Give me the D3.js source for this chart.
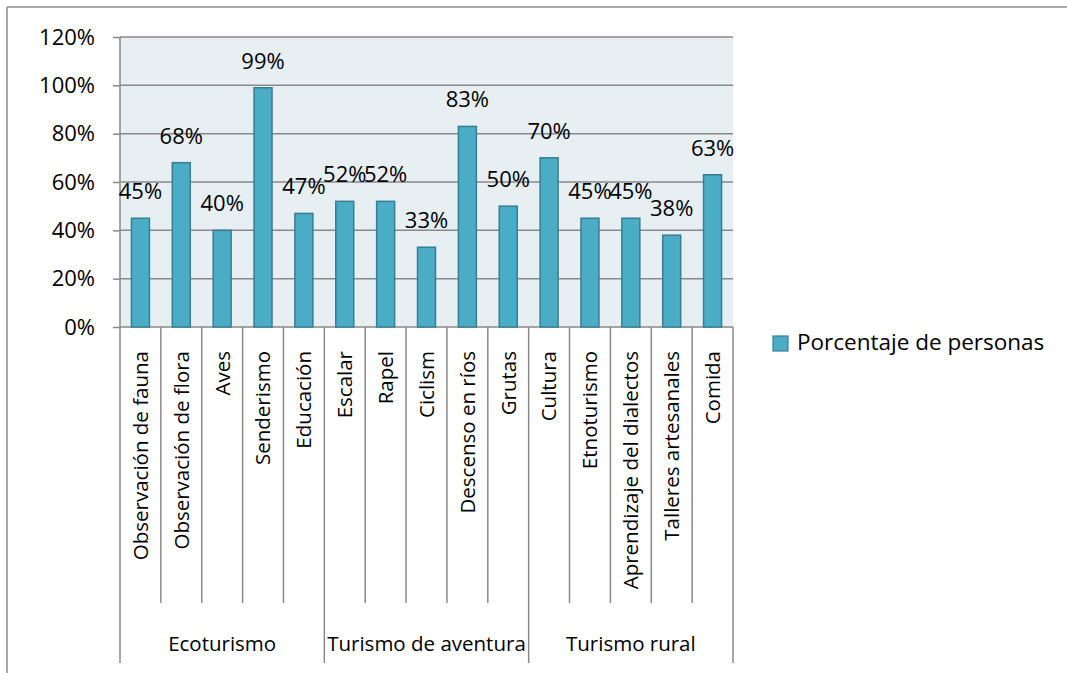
<!DOCTYPE html>
<html>
<head>
<meta charset="utf-8">
<script src="https://cdn.jsdelivr.net/npm/d3@7"></script>
<style>
  html, body { margin: 0; padding: 0; background: #fff; }
  svg { display: block; }
  text { font-family: "Open Sans", sans-serif; fill: #000; }
</style>
</head>
<body>
<svg id="chart" width="1067" height="673"></svg>
<script>
const categories = ["Observación de fauna", "Observación de flora", "Aves", "Senderismo", "Educación",
  "Escalar", "Rapel", "Ciclism", "Descenso en ríos", "Grutas",
  "Cultura", "Etnoturismo", "Aprendizaje del dialectos", "Talleres artesanales", "Comida"];
const values = [0.45, 0.68, 0.40, 0.99, 0.47, 0.52, 0.52, 0.33, 0.83, 0.50, 0.70, 0.45, 0.45, 0.38, 0.63];
const groupNames = ["Ecoturismo", "Turismo de aventura", "Turismo rural"];
const groupSizes = [5, 5, 5];
const yTicks = [0, 0.2, 0.4, 0.6, 0.8, 1.0, 1.2];
const seriesName = "Porcentaje de personas";

const svg = d3.select("#chart");
const plot = { left: 120, right: 733, top: 37, bottom: 327 };
const catBottom = 603, groupBottom = 663;
const gridColor = "#898989";

// outer frame (top and left edges visible)
svg.append("line").attr("x1", 7).attr("x2", 1067).attr("y1", 7).attr("y2", 7)
  .attr("stroke", "#8c8c8c").attr("stroke-width", 1.5);
svg.append("line").attr("x1", 7).attr("x2", 7).attr("y1", 7).attr("y2", 673)
  .attr("stroke", "#8c8c8c").attr("stroke-width", 1.5);

const x = d3.scaleBand().domain(categories).range([plot.left, plot.right]).padding(0);
const y = d3.scaleLinear().domain([0, 1.2]).range([plot.bottom, plot.top]);

// plot background
svg.append("rect").attr("x", plot.left).attr("y", plot.top)
  .attr("width", plot.right - plot.left).attr("height", plot.bottom - plot.top)
  .attr("fill", "#E8EFF3");

// gridlines
svg.append("g").selectAll("line").data(yTicks).join("line")
  .attr("x1", plot.left).attr("x2", plot.right)
  .attr("y1", d => y(d)).attr("y2", d => y(d))
  .attr("stroke", gridColor).attr("stroke-width", 1.5);

// y axis
const yAxis = svg.append("g").attr("transform", `translate(${plot.left},0)`)
  .call(d3.axisLeft(y).tickValues(yTicks).tickFormat(d3.format(".0%")).tickSize(7).tickPadding(18));
yAxis.select(".domain").remove();
yAxis.selectAll(".tick line").attr("stroke", gridColor).attr("stroke-width", 1.5);
yAxis.selectAll(".tick text").attr("font-size", 22).attr("font-family", "Open Sans").attr("fill", "#000");
svg.append("line").attr("x1", plot.left).attr("x2", plot.left)
  .attr("y1", plot.top).attr("y2", groupBottom)
  .attr("stroke", gridColor).attr("stroke-width", 1.5);

// bars
const barW = x.bandwidth() * 0.44;
svg.append("g").selectAll("rect").data(values).join("rect")
  .attr("x", (d, i) => x(categories[i]) + (x.bandwidth() - barW) / 2)
  .attr("y", d => y(d))
  .attr("width", barW)
  .attr("height", d => y(0) - y(d))
  .attr("fill", "#4BACC6")
  .attr("stroke", "#357F93").attr("stroke-width", 1.5);

// data labels
svg.append("g").selectAll("text").data(values).join("text")
  .attr("x", (d, i) => x(categories[i]) + x.bandwidth() / 2)
  .attr("y", d => y(d) - 19)
  .attr("text-anchor", "middle")
  .attr("font-size", 22)
  .text(d => d3.format(".0%")(d));

// category dividers
const groupStarts = [];
let acc = 0;
groupSizes.forEach(s => { groupStarts.push(acc); acc += s; });
const boundaries = d3.range(1, categories.length + 1);
svg.append("g").selectAll("line").data(boundaries).join("line")
  .attr("x1", i => plot.left + i * x.step()).attr("x2", i => plot.left + i * x.step())
  .attr("y1", plot.bottom)
  .attr("y2", i => (i === categories.length || groupStarts.includes(i)) ? groupBottom : catBottom)
  .attr("stroke", gridColor).attr("stroke-width", 1.5);

// rotated category labels
svg.append("g").selectAll("text").data(categories).join("text")
  .attr("transform", d => `translate(${x(d) + x.bandwidth() / 2},351) rotate(-90)`)
  .attr("text-anchor", "end")
  .attr("dy", "0.36em")
  .attr("font-size", 20.5)
  .text(d => d);

// group labels
svg.append("g").selectAll("text").data(groupNames).join("text")
  .attr("x", (d, i) => plot.left + (groupStarts[i] + groupSizes[i] / 2) * x.step())
  .attr("y", 651)
  .attr("text-anchor", "middle")
  .attr("font-size", 20.5)
  .text(d => d);

// legend
svg.append("rect").attr("x", 773).attr("y", 336).attr("width", 15).attr("height", 15)
  .attr("fill", "#4BACC6").attr("stroke", "#357F93").attr("stroke-width", 1.2);
svg.append("text").attr("x", 797).attr("y", 350).attr("font-size", 22.5).text(seriesName);
</script>
</body>
</html>
